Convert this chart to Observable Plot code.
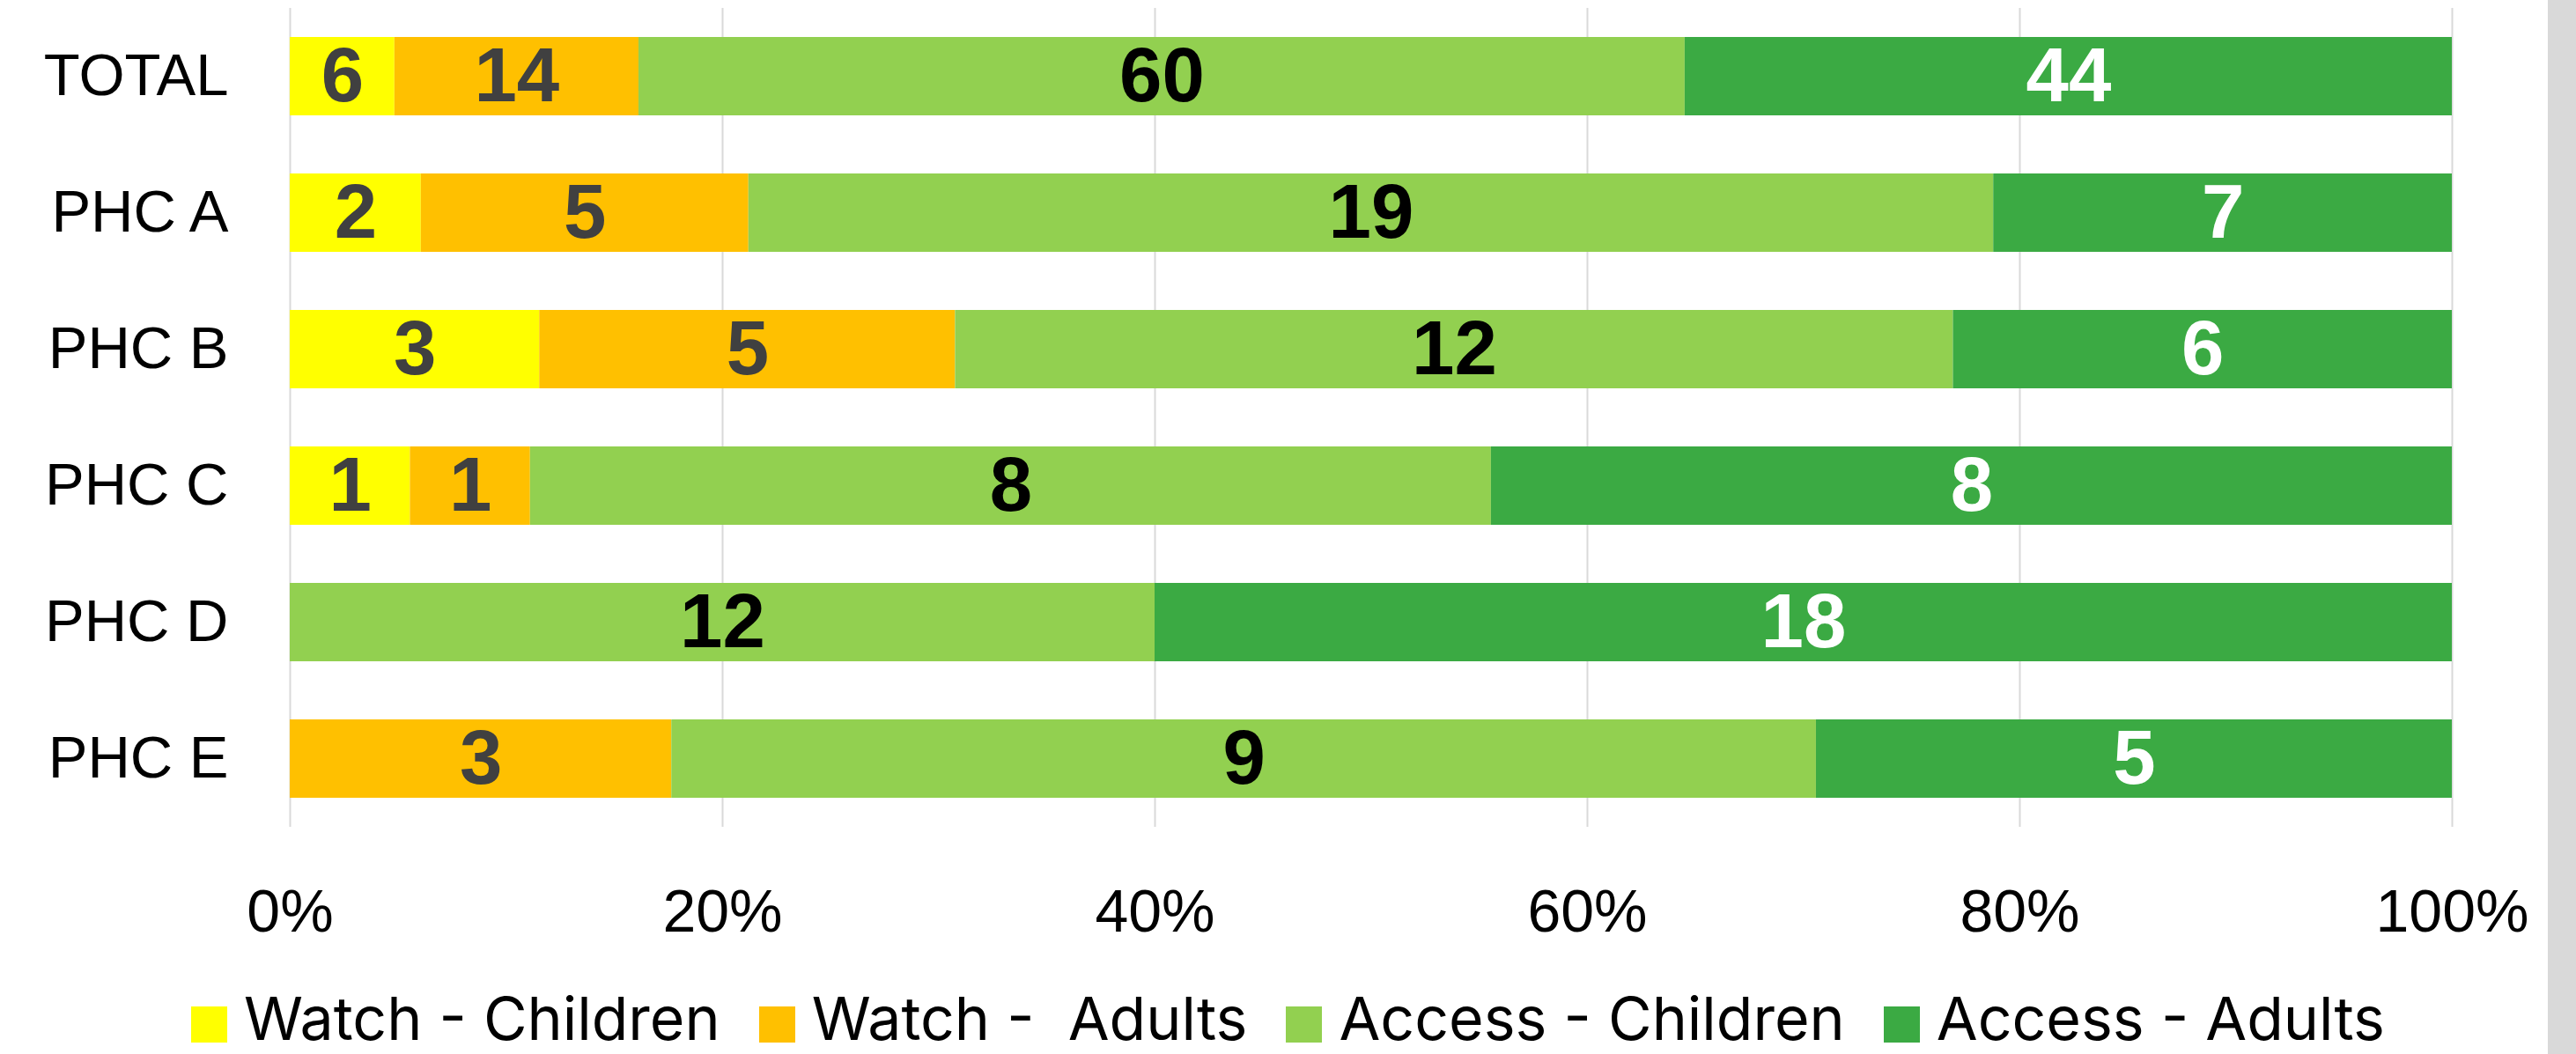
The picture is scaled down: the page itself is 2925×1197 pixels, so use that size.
<!DOCTYPE html>
<html>
<head>
<meta charset="utf-8">
<script src="https://cdn.jsdelivr.net/npm/d3@7"></script>
<script src="https://cdn.jsdelivr.net/npm/@observablehq/plot@0.6"></script>
<style>
  html, body { margin: 0; padding: 0; background: #ffffff; overflow: hidden; }
  #wrap { position: relative; width: 2925px; height: 1197px; background: #ffffff; font-family: "Liberation Sans", Arial, sans-serif; }
  #chart { position: absolute; left: 0; top: 0; }
  #legend { position: absolute; left: 0; top: 1115px; width: 2925px; height: 82px; display: flex; justify-content: center; align-items: flex-start; }
  .item { display: flex; align-items: flex-start; margin: 0 22px; }
  .sw { width: 41px; height: 41px; margin-top: 28px; margin-right: 19px; }
  .lab { font-family: Inter, "Liberation Sans", Arial, sans-serif; font-size: 68px; line-height: 82px; height: 82px; color: #000; white-space: pre; }
  #strip { position: absolute; left: 2893px; top: 0; width: 32px; height: 1197px; background: #d9d9d9; }
</style>
</head>
<body>
<div id="wrap">
  <div id="chart"></div>
  <div id="legend"></div>
  <div id="strip"></div>
</div>
<script>
const categories = ["TOTAL", "PHC A", "PHC B", "PHC C", "PHC D", "PHC E"];
const series = ["Watch - Children", "Watch -  Adults", "Access - Children", "Access - Adults"];
const watchChildren = [6, 2, 3, 1, 0, 0];
const watchAdults = [14, 5, 5, 1, 0, 3];
const accessChildren = [60, 19, 12, 8, 12, 9];
const accessAdults = [44, 7, 6, 8, 18, 5];
const xTicks = [0, 0.2, 0.4, 0.6, 0.8, 1];
const seriesColors = ["#FFFF00", "#FFC000", "#92D050", "#3BAA43"];
const labelColors = ["#404040", "#404040", "#000000", "#FFFFFF"];

const seriesValues = [watchChildren, watchAdults, accessChildren, accessAdults];
const rows = [];
categories.forEach((c, i) => {
  series.forEach((s, j) => {
    rows.push({category: c, series: s, si: j, value: seriesValues[j][i]});
  });
});

const W = 2925, H = 1090;
const chart = Plot.plot({
  width: W,
  height: H,
  marginLeft: 329,
  marginRight: W - 2784,
  marginTop: 9,
  marginBottom: H - 939,
  style: {fontFamily: "'Liberation Sans', Arial, sans-serif", background: "#ffffff", color: "#000000"},
  x: {domain: [0, 1]},
  y: {domain: categories, paddingInner: 0.426, paddingOuter: 0.213},
  color: {type: "identity"},
  marks: [
    Plot.ruleX(xTicks, {stroke: "#d9d9d9", strokeWidth: 2}),
    Plot.barX(rows, Plot.stackX({
      x: "value", y: "category", fill: d => seriesColors[d.si],
      offset: "normalize", order: "si"
    })),
    Plot.text(rows, Plot.stackX({
      x: "value", y: "category",
      text: d => d.value > 0 ? String(d.value) : null,
      fill: d => labelColors[d.si],
      offset: "normalize", order: "si",
      fontSize: 87, fontWeight: "bold"
    })),
    Plot.axisX({ticks: xTicks, tickFormat: d => Math.round(d * 100) + "%", tickSize: 0, tickPadding: 70, fontSize: 68, label: null, color: "#000"}),
    Plot.axisY({tickSize: 0, tickPadding: 70, fontSize: 67, label: null, color: "#000"})
  ]
});
document.getElementById("chart").appendChild(chart);

const legend = document.getElementById("legend");
series.forEach((s, j) => {
  const it = document.createElement("div");
  it.className = "item";
  const sw = document.createElement("div");
  sw.className = "sw";
  sw.style.background = seriesColors[j];
  const lb = document.createElement("span");
  lb.className = "lab";
  lb.textContent = s;
  it.appendChild(sw);
  it.appendChild(lb);
  legend.appendChild(it);
});
</script>
</body>
</html>
